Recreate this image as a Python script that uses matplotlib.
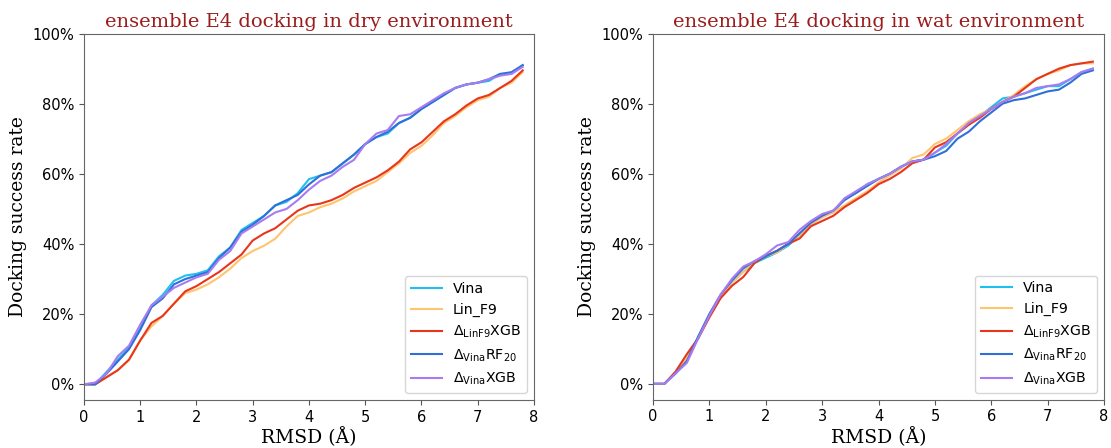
import numpy as np
import matplotlib
matplotlib.use('Agg')
import matplotlib.pyplot as plt
from matplotlib.ticker import PercentFormatter

# rmsd cutoffs (angstrom)
rmsd = np.round(np.arange(0, 7.81, 0.2), 1)

labels = ['Vina', 'Lin_F9', r'$\Delta_{\mathrm{LinF9}}$XGB',
          r'$\Delta_{\mathrm{Vina}}$RF$_{20}$', r'$\Delta_{\mathrm{Vina}}$XGB']
colors = ['#1ec0f2', '#ffc46e', '#e8361c', '#2f6fd8', '#a77cf2']

# dry environment, success rate in %
dry_vina = [0, 0, 3.5, 7, 10.5, 16, 22.5, 25.5, 29.5, 31, 31.5, 32.5, 36.5, 39, 44, 46, 48, 51, 52, 54.5,
            58.5, 59.5, 60.5, 63, 65.5, 68.5, 70.5, 71.5, 74.5, 76, 78.5, 80.5, 82.5, 84.5, 85.5, 86, 86.5, 88.5, 88.5, 91]
dry_linf9 = [0, 0, 2, 4, 7, 12.5, 16.5, 19.5, 23, 26, 27, 28.5, 30.5, 33, 36, 38, 39.5, 41.5, 45, 48,
             49, 50.5, 51.5, 53, 55, 56.5, 58, 60.5, 63, 66, 68, 71, 74.5, 76.5, 79, 81, 82, 84.5, 86, 89]
dry_linf9xgb = [0, 0, 2, 4, 7, 12.5, 17.5, 19.5, 23, 26.5, 28, 30, 32, 34.5, 37, 41, 43, 44.5, 47, 49.5,
                51, 51.5, 52.5, 54, 56, 57.5, 59, 61, 63.5, 67, 69, 72, 75, 77, 79.5, 81.5, 82.5, 84.5, 86.5, 89.5]
dry_rf20 = [0, 0, 3, 6.5, 10, 15.5, 22, 24.5, 28.5, 30, 31, 32, 36, 39, 43.5, 45.5, 48, 51, 52.5, 54,
            57, 59.5, 60.5, 63, 65.5, 68.5, 70.5, 72, 74.5, 76, 78.5, 80.5, 82.5, 84.5, 85.5, 86, 87, 88.5, 89, 91]
dry_xgb = [0, 0.5, 3, 8, 11, 17, 22.5, 25, 27.5, 29, 30.5, 31.5, 35.5, 38, 43, 45, 47, 49, 50, 52.5,
           55.5, 58, 59.5, 62, 64, 68.5, 71.5, 72.5, 76.5, 77, 79, 81, 83, 84.5, 85.5, 86, 87, 88, 88.5, 90.5]

# wat environment, success rate in %
wat_vina = [0, 0, 3, 7, 13, 19.5, 25, 29, 32, 34.5, 36, 37.5, 39.5, 42.5, 45.5, 48, 49, 53, 54.5, 57,
            58.5, 60, 62, 63.5, 64, 66, 68, 71.5, 74, 76.5, 79, 81.5, 82, 83, 84, 85, 85, 87, 89, 90]
wat_linf9 = [0, 0, 3, 7.5, 13, 19.5, 25, 29, 32, 35, 36.5, 37.5, 40, 42.5, 45.5, 47.5, 49, 51, 53, 55,
             57.5, 59.5, 61.5, 64.5, 65.5, 68.5, 70, 72.5, 75, 77, 78.5, 80.5, 82.5, 85, 87, 88.5, 89.5, 91, 91.5, 91.5]
wat_linf9xgb = [0, 0, 3.5, 8.5, 13, 19, 24.5, 28, 30.5, 34.5, 36.5, 38, 40, 41.5, 45, 46.5, 48, 50.5, 52.5, 54.5,
                57, 58.5, 60.5, 63, 64, 67.5, 69, 71.5, 74, 76, 78.5, 80.5, 82, 84.5, 87, 88.5, 90, 91, 91.5, 92]
wat_rf20 = [0, 0, 3, 6.5, 13.5, 20, 25.5, 29.5, 33, 35, 36.5, 38, 40, 43, 46, 48, 49.5, 52.5, 54.5, 56.5,
            58.5, 60, 62, 63.5, 64, 65, 66.5, 70, 72, 75, 77.5, 80, 81, 81.5, 82.5, 83.5, 84, 86, 88.5, 89.5]
wat_xgb = [0, 0, 3, 6, 13, 19.5, 25.5, 30, 33.5, 35, 37, 39.5, 40.5, 44, 46.5, 48.5, 49.5, 53, 55, 57,
           58.5, 60, 62, 63.5, 64, 66, 68.5, 71.5, 74.5, 76.5, 78.5, 80.5, 82, 83, 84.5, 85, 85.5, 87, 89, 90]

panels = [
    ('ensemble E4 docking in dry environment', [dry_vina, dry_linf9, dry_linf9xgb, dry_rf20, dry_xgb]),
    ('ensemble E4 docking in wat environment', [wat_vina, wat_linf9, wat_linf9xgb, wat_rf20, wat_xgb]),
]
positions = [[0.0756, 0.107, 0.405, 0.818], [0.5878, 0.108, 0.406, 0.817]]

fig = plt.figure(figsize=(11.11, 4.48), dpi=100)

for (title, series), pos in zip(panels, positions):
    ax = fig.add_axes(pos)
    for vals, lab, col in zip(series, labels, colors):
        ax.plot(rmsd, np.array(vals) / 100, color=col, lw=1.5, label=lab)
    ax.set_xlim(0, 8)
    ax.set_ylim(-0.045, 1.0)
    ax.set_yticks(np.arange(0, 1.01, 0.2))
    ax.yaxis.set_major_formatter(PercentFormatter(1.0, decimals=0))
    ax.tick_params(labelsize=10.5, color='#555555')
    for sp in ax.spines.values():
        sp.set_color('#666666')
    ax.set_title(title, family='DejaVu Serif', fontsize=14, color='#9b1c1c', pad=5)
    ax.set_xlabel('RMSD (Å)', family='DejaVu Serif', fontsize=13.5, labelpad=2)
    ax.set_ylabel('Docking success rate', family='DejaVu Serif', fontsize=13.5)
    ax.legend(loc='lower right', fontsize=10.2, handlelength=2.2)

fig.savefig('out.png', dpi=100)
